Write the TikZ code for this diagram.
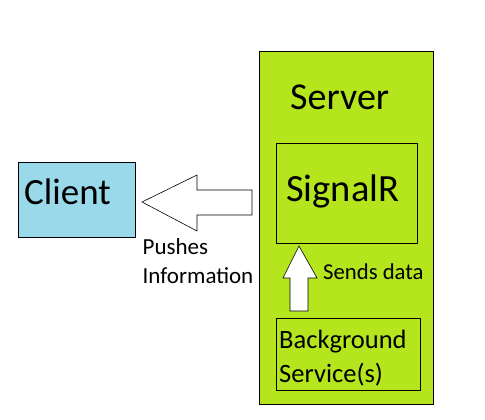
\documentclass[tikz,border=0pt]{standalone}
\usepackage{fontspec}
\setmainfont{Carlito}
\definecolor{lime}{HTML}{B5E61D}
\definecolor{turq}{HTML}{99D9EA}
\begin{document}
\begin{tikzpicture}[x=1pt,y=-1pt,
  box/.style={draw=black,line width=1pt,inner sep=0pt,anchor=north west},
  lbl/.style={inner sep=0pt,anchor=base west,text=black},
  blockarrow/.style={draw=black,line width=0.6pt,fill=white,line join=miter}]
\useasboundingbox (0,0) rectangle (485,420);
% boxes
\node[box,fill=lime,minimum width=174pt,minimum height=353pt] (server) at (259,51) {};
\node[box,minimum width=141pt,minimum height=100pt] (signalr) at (276,143) {};
\node[box,minimum width=144pt,minimum height=72pt] (bg) at (276,318) {};
\node[box,fill=turq,minimum width=117pt,minimum height=75pt] (client) at (18,162) {};
% texts
\node[lbl,font=\fontsize{37}{44}\selectfont] (tclient) at (24,204) {Client};
\node[lbl,font=\fontsize{38}{46}\selectfont] (tserver) at (290,110) {Server};
\node[lbl,font=\fontsize{38.5}{46}\selectfont] (tsignalr) at (286,201.5) {SignalR};
\node[lbl,font=\fontsize{22.7}{28}\selectfont] (tsends) at (323,279) {Sends data};
\node[lbl,font=\fontsize{26.5}{34}\selectfont] (tbg1) at (279,348) {Background};
\node[lbl,font=\fontsize{26.5}{34}\selectfont] (tbg2) at (279,382) {Service(s)};
\node[lbl,font=\fontsize{23}{29}\selectfont] (tpush1) at (142.5,254) {Pushes};
\node[lbl,font=\fontsize{23}{29}\selectfont] (tpush2) at (142.5,283) {Information};
% block arrows
\draw[blockarrow] (142,202) -- (197,175) -- (197,190) -- (252,190) -- (252,215) -- (197,215) -- (197,231) -- cycle;
\draw[blockarrow] (299,246) -- (317,278) -- (308,278) -- (308,311) -- (290,311) -- (290,278) -- (283,278) -- cycle;
\end{tikzpicture}
\end{document}
